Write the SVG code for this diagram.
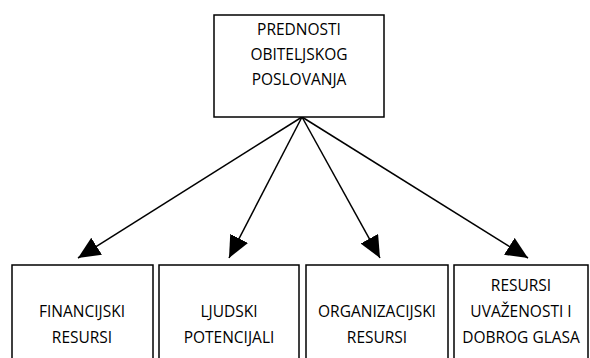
<svg xmlns="http://www.w3.org/2000/svg" width="590" height="358" viewBox="0 0 590 358">
<style>
.box{fill:#fff;stroke:#000;stroke-width:1.5}
.t{font-family:"Open Sans","Liberation Sans",sans-serif;font-size:15.5px;fill:#000;text-anchor:middle}
.c{stroke:#000;stroke-width:1.5;fill:none}
</style>
<defs>
<marker id="ah" markerUnits="userSpaceOnUse" markerWidth="24" markerHeight="22" refX="22" refY="10" orient="auto" viewBox="0 0 24 22">
<path d="M0,0 L22,10 L0,20 Z" fill="#000"/>
</marker>
</defs>
<g id="connectors">
<line class="c" x1="302" y1="117" x2="78" y2="258" marker-end="url(#ah)"/>
<line class="c" x1="302" y1="117" x2="229" y2="258" marker-end="url(#ah)"/>
<line class="c" x1="302" y1="117" x2="380" y2="258" marker-end="url(#ah)"/>
<line class="c" x1="302" y1="117" x2="528" y2="258" marker-end="url(#ah)"/>
</g>
<g id="n0">
<rect class="box" x="214" y="15" width="170" height="102"/>
<text class="t" x="299" y="35">PREDNOSTI</text>
<text class="t" x="299" y="60">OBITELJSKOG</text>
<text class="t" x="299" y="85">POSLOVANJA</text>
</g>
<g id="n1">
<rect class="box" x="12" y="265" width="141" height="100"/>
<text class="t" x="82" y="317">FINANCIJSKI</text>
<text class="t" x="82" y="343">RESURSI</text>
</g>
<g id="n2">
<rect class="box" x="159" y="265" width="140" height="100"/>
<text class="t" x="229" y="317">LJUDSKI</text>
<text class="t" x="229" y="343">POTENCIJALI</text>
</g>
<g id="n3">
<rect class="box" x="306" y="265" width="142" height="100"/>
<text class="t" x="377" y="317">ORGANIZACIJSKI</text>
<text class="t" x="377" y="343">RESURSI</text>
</g>
<g id="n4">
<rect class="box" x="454" y="265" width="134" height="100"/>
<text class="t" x="521" y="291">RESURSI</text>
<text class="t" x="521" y="317">UVAŽENOSTI I</text>
<text class="t" x="521" y="343">DOBROG GLASA</text>
</g>
</svg>
